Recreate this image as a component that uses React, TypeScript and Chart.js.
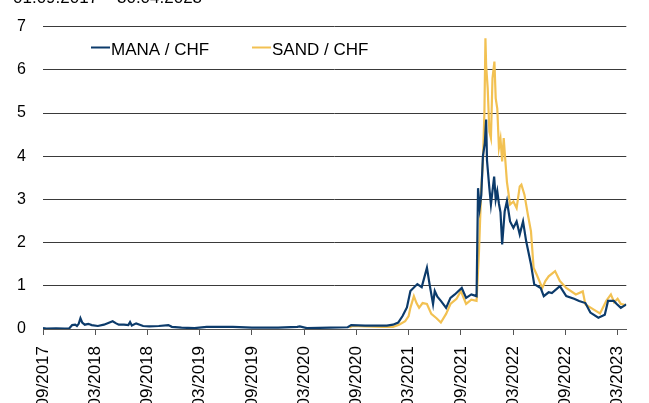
import React, { useEffect, useRef } from "react";
import { Chart, registerables } from "chart.js";

Chart.register(...registerables);

const TITLE = "01.09.2017 – 30.04.2023";
const SERIES_NAMES = ["MANA / CHF", "SAND / CHF"];
const SERIES_COLORS = ["#0c3b6b", "#f2c152"];

// x = months since 01.09.2017
const tickLabels = [
  "09/2017", "03/2018", "09/2018", "03/2019", "09/2019", "03/2020",
  "09/2020", "03/2021", "09/2021", "03/2022", "09/2022", "03/2023",
];

const manaX = [
  0, 0.4, 1.5, 2.5, 3.0, 3.35, 3.7, 3.9, 4.1, 4.3, 4.5, 4.8, 5.2, 5.6, 6.3, 7.0, 7.5, 8.0, 8.4, 8.7,
  9.3, 9.8, 10.0, 10.2, 10.7, 11.5, 12.2, 13.3, 14.4, 14.8, 15.9, 17.4, 18.8, 20.0, 21.8, 24.0, 27.0,
  29.2, 29.5, 30.3, 33.0, 35.0, 35.4, 37.0, 38.0, 39.5, 40.2, 40.8, 41.3, 41.8, 42.2, 43.0, 43.5, 44.1,
  44.4, 44.8, 45.0, 45.3, 45.7, 46.3, 46.8, 47.3, 48.1, 48.6, 49.2, 49.8, 49.97, 50.16, 50.34, 50.53,
  50.75, 50.9, 51.0, 51.27, 51.45, 51.82, 52.0, 52.18, 52.37, 52.55, 52.74, 53.03, 53.29, 53.65, 54.03,
  54.4, 54.76, 55.14, 55.5, 56.05, 56.42, 57.16, 57.52, 58.08, 58.45, 59.37, 60.1, 61.0, 61.58, 62.3,
  62.87, 63.79, 64.53, 64.9, 65.56, 65.9, 66.37, 67.0,
];
const manaY = [
  0.02, 0.01, 0.015, 0.01, 0.01, 0.09, 0.1, 0.07, 0.12, 0.25, 0.15, 0.1, 0.12, 0.09, 0.07, 0.1, 0.14, 0.18, 0.13, 0.1,
  0.1, 0.09, 0.16, 0.08, 0.13, 0.07, 0.06, 0.07, 0.09, 0.05, 0.03, 0.02, 0.05, 0.05, 0.05, 0.03, 0.03,
  0.05, 0.06, 0.02, 0.03, 0.04, 0.09, 0.08, 0.08, 0.08, 0.1, 0.15, 0.3, 0.5, 0.88, 1.04, 0.97, 1.42,
  1.04, 0.58, 0.88, 0.75, 0.65, 0.49, 0.72, 0.8, 0.95, 0.72, 0.8, 0.76, 3.26, 2.8, 3.1, 4.0,
  4.3, 4.85, 3.9, 3.26, 2.88, 3.53, 3.0, 3.19, 2.9, 2.7, 1.96, 2.72, 2.96, 2.49, 2.34,
  2.49, 2.19, 2.49, 2.03, 1.5, 1.04, 0.95, 0.76, 0.85, 0.83, 0.99, 0.76, 0.7, 0.65, 0.6,
  0.38, 0.26, 0.33, 0.65, 0.65, 0.58, 0.49, 0.57,
];

const sandX = [
  35.2, 35.5, 37.0, 39.0, 40.2, 40.9, 41.6, 42.0, 42.2, 42.6, 42.9, 43.2, 43.6, 44.1, 44.6, 45.2, 45.7,
  46.3, 46.8, 47.5, 48.0, 48.6, 49.2, 49.8, 50.08, 50.34, 50.53, 50.7, 50.82, 50.9, 51.08, 51.27, 51.45,
  51.63, 51.85, 52.0, 52.18, 52.37, 52.55, 52.74, 52.92, 53.03, 53.29, 53.65, 54.03, 54.4, 54.76, 54.95,
  55.3, 55.69, 56.05, 56.35, 56.7, 57.35, 57.7, 58.08, 58.82, 59.37, 60.1, 61.2, 62.0, 62.3, 63.5, 63.98,
  64.7, 65.23, 65.6, 66.0, 66.37, 67.0,
];
const sandY = [
  0.03, 0.07, 0.06, 0.05, 0.05, 0.1, 0.18, 0.3, 0.49, 0.76, 0.6, 0.49, 0.6, 0.58, 0.35, 0.25, 0.15,
  0.35, 0.58, 0.7, 0.88, 0.58, 0.68, 0.65, 1.8, 3.26, 3.88, 5.0, 6.73, 6.1, 5.57, 4.57, 4.42,
  5.8, 6.19, 5.34, 5.1, 4.19, 4.4, 3.88, 4.42, 4.1, 3.4, 2.88, 2.95, 2.8, 3.3, 3.34,
  3.11, 2.65, 2.26, 1.42, 1.26, 0.95, 1.11, 1.22, 1.34, 1.11, 0.95, 0.8, 0.87, 0.57, 0.42, 0.36,
  0.65, 0.8, 0.62, 0.7, 0.58, 0.55,
];

const FONT = "'Liberation Sans', Arial, Helvetica, sans-serif";

const overlayPlugin = {
  id: "overlay",
  afterDraw(chart: any) {
    const ctx = chart.ctx;
    ctx.save();
    ctx.fillStyle = "#000";
    ctx.font = `17px ${FONT}`;
    ctx.textBaseline = "alphabetic";
    ctx.textAlign = "left";
    ctx.fillText(TITLE, 13, 3);
    const items = [
      { x: 91, label: SERIES_NAMES[0], color: SERIES_COLORS[0] },
      { x: 252, label: SERIES_NAMES[1], color: SERIES_COLORS[1] },
    ];
    items.forEach((it) => {
      ctx.strokeStyle = it.color;
      ctx.lineWidth = 2;
      ctx.beginPath();
      ctx.moveTo(it.x, 47.5);
      ctx.lineTo(it.x + 19, 47.5);
      ctx.stroke();
      ctx.fillStyle = "#000";
      ctx.fillText(it.label, it.x + 20, 55);
    });
    ctx.restore();
  },
};

export default function App() {
  const ref = useRef<HTMLCanvasElement>(null);
  useEffect(() => {
    if (!ref.current) return;
    const chart = new Chart(ref.current, {
      type: "line",
      data: {
        datasets: [
          {
            label: SERIES_NAMES[0],
            data: manaX.map((x, i) => ({ x, y: manaY[i] })),
            borderColor: SERIES_COLORS[0],
            borderWidth: 2.2,
            pointRadius: 0,
            tension: 0,
            fill: false,
          },
          {
            label: SERIES_NAMES[1],
            data: sandX.map((x, i) => ({ x, y: sandY[i] })),
            borderColor: SERIES_COLORS[1],
            borderWidth: 2.2,
            pointRadius: 0,
            tension: 0,
            fill: false,
          },
        ],
      },
      options: {
        animation: false,
        responsive: true,
        maintainAspectRatio: false,
        layout: { padding: { top: 25, right: 0, left: 0, bottom: 0 }, autoPadding: false },
        plugins: { legend: { display: false }, tooltip: { enabled: false } },
        scales: {
          x: {
            type: "linear",
            min: 0,
            max: 67,
            afterBuildTicks: (scale: any) => {
              scale.ticks = tickLabels.map((_, i) => ({ value: i * 6 }));
            },
            afterFit: (scale: any) => {
              scale.height = 101;
            },
            grid: { drawOnChartArea: false, drawTicks: true, tickLength: 6, color: "#555" },
            border: { display: true, color: "#555", width: 1 },
            ticks: {
              autoSkip: false,
              minRotation: 90,
              maxRotation: 90,
              padding: 11,
              color: "#000",
              font: { family: FONT, size: 17 },
              callback: (v: any) => tickLabels[Math.round(Number(v) / 6)] ?? "",
            },
          },
          y: {
            min: 0,
            max: 7,
            afterFit: (scale: any) => {
              scale.width = 43;
            },
            grid: { drawTicks: false, color: "#3a3a3a", lineWidth: 1 },
            border: { display: false },
            ticks: {
              stepSize: 1,
              padding: 17,
              color: "#000",
              font: { family: FONT, size: 16 },
            },
          },
        },
      },
      plugins: [overlayPlugin],
    });
    return () => chart.destroy();
  }, []);
  return (
    <div style={{ position: "absolute", left: 0, top: 0, width: 649, height: 430 }}>
      <canvas ref={ref} />
    </div>
  );
}
